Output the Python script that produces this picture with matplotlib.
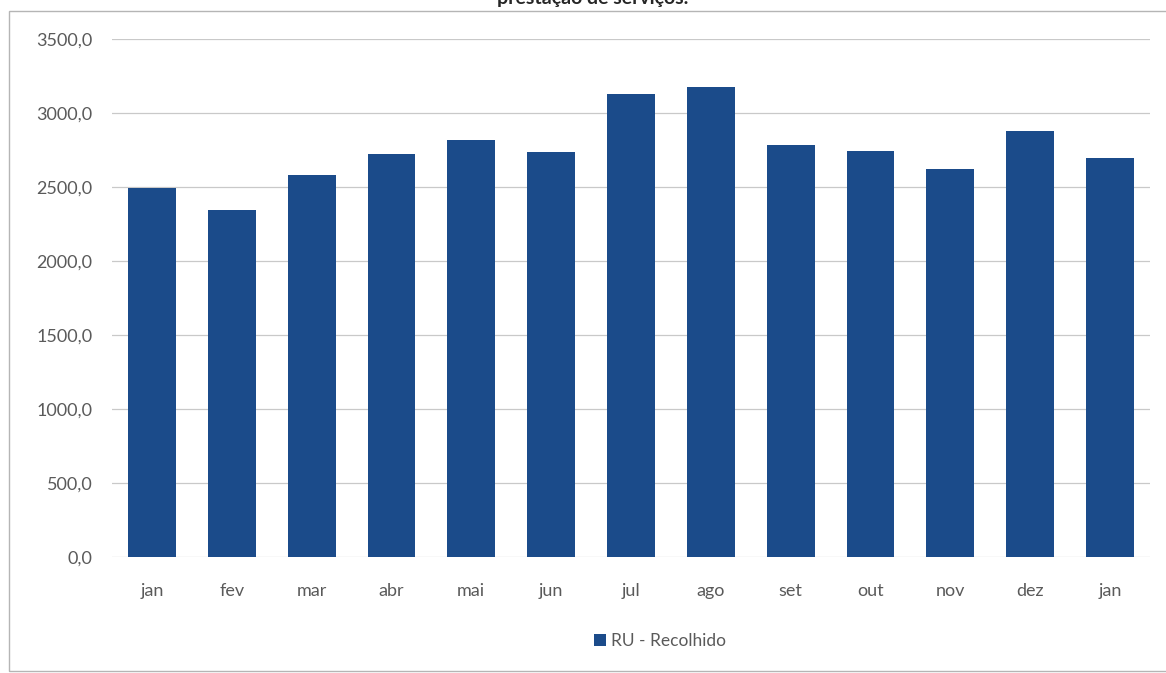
import matplotlib
matplotlib.use("Agg")
import matplotlib.pyplot as plt
from matplotlib.patches import Rectangle, Patch
from matplotlib.ticker import FuncFormatter, MultipleLocator

# Monthly amounts collected
months = ["jan", "fev", "mar", "abr", "mai", "jun", "jul",
          "ago", "set", "out", "nov", "dez", "jan"]
recolhido = [2495, 2345, 2579, 2725, 2818, 2734, 3126,
             3178, 2782, 2743, 2624, 2880, 2694]
series_name = "RU - Recolhido"
title_text = "prestação de serviços."

bar_color = "#1b4b8a"
grid_color = "#c9c9c9"
text_color = "#5a5a5a"

plt.rcParams["font.family"] = ["Lato", "DejaVu Sans"]

W, H = 1166, 673
fig = plt.figure(figsize=(W / 100, H / 100), dpi=100)
fig.patch.set_facecolor("white")

# chart-area frame
fig.patches.append(Rectangle((9 / W, 1 - 671 / H), (W + 20) / W, (671 - 11) / H,
                             transform=fig.transFigure, fill=False,
                             edgecolor="#b5b5b5", linewidth=1.0, zorder=0))

# title, sitting at the very top edge
fig.text(593 / W, 1 - 4 / H, title_text, ha="center", va="baseline",
         fontsize=14, fontweight="bold", color="#262626")

ax = fig.add_axes([112 / W, 1 - 557 / H, (1150 - 112) / W, (557 - 39) / H])
x = range(len(months))
ax.bar(x, recolhido, width=0.6, color=bar_color, zorder=3, label=series_name)

ax.set_xlim(-0.5, len(months) - 0.5)
ax.set_ylim(0, 3500)
ax.yaxis.set_major_locator(MultipleLocator(500))
ax.yaxis.set_major_formatter(FuncFormatter(lambda v, p: f"{v:.1f}".replace(".", ",")))
ax.set_xticks(list(x))
ax.set_xticklabels(months)

ax.grid(axis="y", color=grid_color, linewidth=0.9, zorder=0)
ax.set_axisbelow(True)
for s in ax.spines.values():
    s.set_visible(False)
ax.tick_params(axis="both", length=0, labelsize=13, colors=text_color)
ax.tick_params(axis="y", pad=14)
ax.tick_params(axis="x", pad=19)

fig.legend(handles=[Patch(facecolor=bar_color, label=series_name)],
           loc="center", bbox_to_anchor=(660 / W, 1 - 641 / H),
           frameon=False, fontsize=12.5, handlelength=0.7, handleheight=0.7,
           handletextpad=0.3, labelcolor=text_color)

fig.savefig("out.png", dpi=100, facecolor="white")
